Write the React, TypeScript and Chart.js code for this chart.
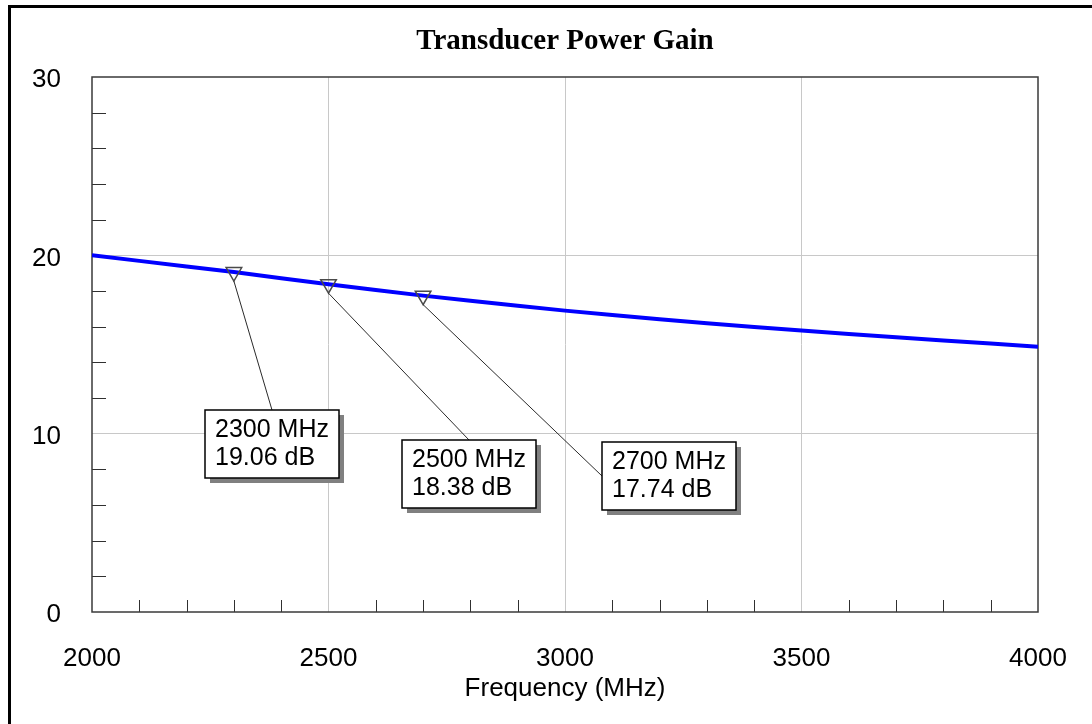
import React, { useEffect, useRef } from 'react';
import { Chart, registerables } from 'chart.js';

Chart.register(...registerables);

// ---- data ----
const FREQ_MHZ = [2000, 2100, 2200, 2300, 2400, 2500, 2600, 2700, 2800, 2900, 3000, 3100, 3200, 3300, 3400, 3500, 3600, 3700, 3800, 3900, 4000];
const GAIN_DB = [20.0, 19.69, 19.38, 19.06, 18.72, 18.38, 18.06, 17.74, 17.45, 17.17, 16.9, 16.65, 16.41, 16.19, 15.98, 15.78, 15.59, 15.41, 15.23, 15.05, 14.88];

const MARKER_FREQ = [2300, 2500, 2700];
const MARKER_GAIN = [19.06, 18.38, 17.74];

// marker label boxes: top-left corner in data units, and where the leader line attaches
const LABEL_FREQ = [2238, 2655, 3078];
const LABEL_GAIN = [11.33, 9.65, 9.52];
const LABEL_SIDE = ['top', 'top', 'left'];

const X_TICK_LABELS = [2000, 2500, 3000, 3500, 4000];
const Y_TICK_LABELS = [0, 10, 20, 30];
const X_GRID = [2500, 3000, 3500];
const Y_GRID = [10, 20];

const TITLE = 'Transducer Power Gain';
const X_TITLE = 'Frequency (MHz)';

const SANS = '"Liberation Sans", Arial, sans-serif';
const SERIF = '"Liberation Serif", "Times New Roman", serif';
const MARKER_R = 9;

const overlayPlugin = {
  id: 'overlay',
  beforeDatasetsDraw(chart: any) {
    const { ctx, chartArea: a, scales } = chart;
    const x = scales.x;
    const y = scales.y;
    ctx.save();
    ctx.strokeStyle = '#303030';
    ctx.lineWidth = 1;
    ctx.beginPath();
    x.ticks.forEach((t: any) => {
      if (t.value > x.min && t.value < x.max && !X_GRID.includes(t.value)) {
        const px = Math.round(x.getPixelForValue(t.value)) + 0.5;
        ctx.moveTo(px, a.bottom);
        ctx.lineTo(px, a.bottom - 12);
      }
    });
    y.ticks.forEach((t: any) => {
      if (t.value > y.min && t.value < y.max && !Y_GRID.includes(t.value)) {
        const py = Math.round(y.getPixelForValue(t.value)) + 0.5;
        ctx.moveTo(a.left, py);
        ctx.lineTo(a.left + 14, py);
      }
    });
    ctx.stroke();
    ctx.strokeStyle = '#3a3a3a';
    ctx.lineWidth = 1.5;
    ctx.strokeRect(a.left, a.top, a.right - a.left, a.bottom - a.top);
    ctx.restore();
  },
  afterDatasetsDraw(chart: any) {
    const { ctx, scales } = chart;
    const x = scales.x;
    const y = scales.y;
    ctx.save();
    ctx.font = `25px ${SANS}`;
    MARKER_FREQ.forEach((f, i) => {
      const mx = x.getPixelForValue(f);
      const my = y.getPixelForValue(MARKER_GAIN[i]);
      const bx = Math.round(x.getPixelForValue(LABEL_FREQ[i]));
      const by = Math.round(y.getPixelForValue(LABEL_GAIN[i]));
      const lines = [`${f} MHz`, `${MARKER_GAIN[i].toFixed(2)} dB`];
      const w = Math.round(Math.max(...lines.map((l) => ctx.measureText(l).width)) + 20);
      const h = 68;
      const ax = LABEL_SIDE[i] === 'top' ? bx + w / 2 : bx;
      const ay = LABEL_SIDE[i] === 'top' ? by : by + h / 2;
      ctx.strokeStyle = '#2a2a2a';
      ctx.lineWidth = 1;
      ctx.beginPath();
      ctx.moveTo(mx, my + MARKER_R);
      ctx.lineTo(ax, ay);
      ctx.stroke();
      ctx.fillStyle = '#808080';
      ctx.fillRect(bx + 5, by + 5, w, h);
      ctx.fillStyle = '#ffffff';
      ctx.fillRect(bx, by, w, h);
      ctx.strokeStyle = '#000000';
      ctx.lineWidth = 1.5;
      ctx.strokeRect(bx, by, w, h);
      ctx.fillStyle = '#000000';
      ctx.textAlign = 'left';
      ctx.textBaseline = 'alphabetic';
      ctx.fillText(lines[0], bx + 10, by + 27);
      ctx.fillText(lines[1], bx + 10, by + 55);
    });
    ctx.restore();
  },
};

export default function App() {
  const canvasRef = useRef<HTMLCanvasElement | null>(null);

  useEffect(() => {
    const canvas = canvasRef.current;
    if (!canvas) return;
    const chart = new Chart(canvas, {
      type: 'line',
      data: {
        datasets: [
          {
            label: 'Markers',
            data: MARKER_FREQ.map((f, i) => ({ x: f, y: MARKER_GAIN[i] })),
            showLine: false,
            pointStyle: 'triangle',
            rotation: 180,
            pointRadius: MARKER_R,
            pointBorderColor: '#4a4a4a',
            pointBackgroundColor: 'rgba(0,0,0,0)',
            pointBorderWidth: 1.5,
            order: 0,
          } as any,
          {
            label: 'Gain',
            data: FREQ_MHZ.map((f, i) => ({ x: f, y: GAIN_DB[i] })),
            borderColor: '#0000ff',
            borderWidth: 4,
            pointRadius: 0,
            tension: 0,
            fill: false,
            order: 1,
          },
        ],
      },
      options: {
        responsive: false,
        animation: false,
        events: [],
        layout: { padding: { left: 0, right: 54, top: 0, bottom: 0 } },
        plugins: {
          legend: { display: false },
          tooltip: { enabled: false },
          title: {
            display: true,
            text: TITLE,
            fullSize: false,
            color: '#000000',
            font: { family: SERIF, size: 29, weight: 'bold', lineHeight: 1.2 },
            padding: { top: 24, bottom: 18.2 },
          },
        },
        scales: {
          x: {
            type: 'linear',
            min: 2000,
            max: 4000,
            ticks: {
              stepSize: 100,
              autoSkip: false,
              maxRotation: 0,
              padding: 31,
              color: '#000000',
              font: { family: SANS, size: 26 },
              callback: (v: any) => (X_TICK_LABELS.includes(Number(v)) ? String(v) : ''),
            },
            grid: {
              drawTicks: false,
              lineWidth: 1,
              color: (c: any) => (c.tick && X_GRID.includes(c.tick.value) ? '#c8c8c8' : 'rgba(0,0,0,0)'),
            },
            border: { display: false },
            title: {
              display: true,
              text: X_TITLE,
              color: '#000000',
              font: { family: SANS, size: 26, lineHeight: 1.2 },
              padding: { top: 0, bottom: 19.4 },
            },
            afterFit: (s: any) => {
              s.height = 112;
              s.paddingLeft = 0;
              s.paddingRight = 0;
            },
          },
          y: {
            type: 'linear',
            min: 0,
            max: 30,
            ticks: {
              stepSize: 2,
              autoSkip: false,
              padding: 31,
              labelOffset: 3,
              color: '#000000',
              font: { family: SANS, size: 26 },
              callback: (v: any) => (Y_TICK_LABELS.includes(Number(v)) ? String(v) : ''),
            },
            grid: {
              drawTicks: false,
              lineWidth: 1,
              color: (c: any) => (c.tick && Y_GRID.includes(c.tick.value) ? '#c8c8c8' : 'rgba(0,0,0,0)'),
            },
            border: { display: false },
            afterFit: (s: any) => {
              s.width = 92;
              s.paddingTop = 0;
              s.paddingBottom = 0;
            },
          },
        },
      } as any,
      plugins: [overlayPlugin],
    });
    return () => chart.destroy();
  }, []);

  return (
    <div style={{ position: 'fixed', left: 0, top: 0, width: 1092, height: 724, background: '#ffffff', overflow: 'hidden' }}>
      <canvas ref={canvasRef} width={1092} height={724} style={{ display: 'block', position: 'absolute', left: 0, top: 0 }} />
      <div
        style={{
          position: 'absolute',
          left: 8,
          top: 5,
          width: 3000,
          height: 3000,
          borderLeft: '3px solid #000',
          borderTop: '3px solid #000',
          pointerEvents: 'none',
        }}
      />
    </div>
  );
}
